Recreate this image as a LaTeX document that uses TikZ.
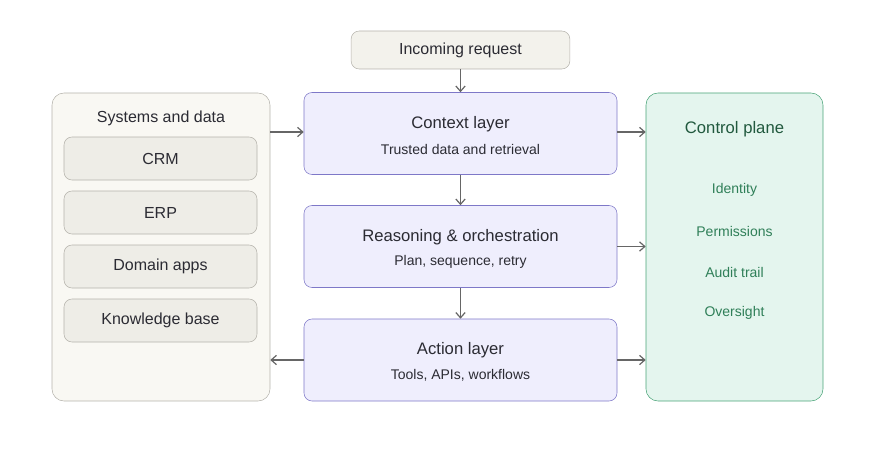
\documentclass[tikz,border=0pt]{standalone}
\usepackage{fontspec}
\setmainfont{Liberation Sans}
\usetikzlibrary{positioning,arrows.meta}
\definecolor{boxgray}{HTML}{F3F2EC}
\definecolor{sysfill}{HTML}{F9F8F3}
\definecolor{itemfill}{HTML}{EEEDE7}
\definecolor{edgegray}{HTML}{B5B3AC}
\definecolor{layerfill}{HTML}{EFEEFD}
\definecolor{layeredge}{HTML}{7E78C8}
\definecolor{ctrlfill}{HTML}{E4F5EE}
\definecolor{ctrledge}{HTML}{4AA478}
\definecolor{ctrltext}{HTML}{2F7F58}
\definecolor{inktext}{HTML}{2B2B33}
\tikzset{
  flow/.style={draw=black!60, line width=0.9pt, -{Straight Barb[length=4pt,width=7pt]}},
  item/.style={draw=edgegray, fill=itemfill, rounded corners=6pt, minimum width=144.75pt, minimum height=32.25pt, inner sep=0pt, font=\fontsize{12}{14}\selectfont, text=inktext},
  layer/.style={draw=layeredge, fill=layerfill, rounded corners=6pt, minimum width=234.75pt, minimum height=61.5pt, inner sep=0pt},
  ctrlitem/.style={font=\fontsize{10.5}{12}\selectfont, text=ctrltext}
}
\begin{document}
\begin{tikzpicture}[x=0.75pt,y=-0.75pt]
\useasboundingbox (0,0) rectangle (875,453);
% request
\node (req) [draw=edgegray, fill=boxgray, rounded corners=6pt, minimum width=164pt, minimum height=28.5pt, font=\fontsize{12}{14}\selectfont, text=inktext] at (460.5,50) {Incoming request};
% systems and data
\node (sys) [draw=edgegray, fill=sysfill, rounded corners=9pt, minimum width=163.5pt, minimum height=231pt] at (161,247) {};
\node [font=\fontsize{12}{14}\selectfont, text=inktext] at (161,118) {Systems and data};
\node (crm) [item] at (160.5,158.5) {CRM};
\node (erp) [item] at (160.5,212.5) {ERP};
\node (dom) [item] at (160.5,266.5) {Domain apps};
\node (kb) [item] at (160.5,320.5) {Knowledge base};
% layers
\node (ctx) [layer] at (460.5,133.5) {};
\node [font=\fontsize{12.5}{14}\selectfont, text=inktext] at (460.5,124) {Context layer};
\node [font=\fontsize{10.5}{12}\selectfont, text=inktext] at (460.5,149) {Trusted data and retrieval};
\node (rsn) [layer] at (460.5,246.5) {};
\node [font=\fontsize{12.5}{14}\selectfont, text=inktext] at (460.5,237) {Reasoning \& orchestration};
\node [font=\fontsize{10.5}{12}\selectfont, text=inktext] at (460.5,262) {Plan, sequence, retry};
\node (act) [layer] at (460.5,360) {};
\node [font=\fontsize{12.5}{14}\selectfont, text=inktext] at (460.5,350) {Action layer};
\node [font=\fontsize{10.5}{12}\selectfont, text=inktext] at (460.5,375) {Tools, APIs, workflows};
% control plane
\node (ctrl) [draw=ctrledge, fill=ctrlfill, rounded corners=9pt, minimum width=132.75pt, minimum height=231pt] at (734.5,247) {};
\node [font=\fontsize{12.5}{14}\selectfont, text=ctrltext!70!black] at (734.5,129) {Control plane};
\node [ctrlitem] at (734.5,190) {Identity};
\node [ctrlitem] at (734.5,231) {Permissions};
\node [ctrlitem] at (734.5,272) {Audit trail};
\node [ctrlitem] at (734.5,313) {Oversight};
% connectors
\draw [flow] (req) -- (ctx);
\draw [flow] (ctx) -- (rsn);
\draw [flow] (rsn) -- (act);
\draw [flow] (sys.east |- 0,132) -- (ctx.west |- 0,132);
\draw [flow] (ctx.east |- 0,132) -- (ctrl.west |- 0,132);
\draw [flow] (rsn.east) -- (ctrl.west |- rsn.east);
\draw [flow] (act.east) -- (ctrl.west |- act.east);
\draw [flow] (act.west) -- (sys.east |- act.west);
\end{tikzpicture}
\end{document}
